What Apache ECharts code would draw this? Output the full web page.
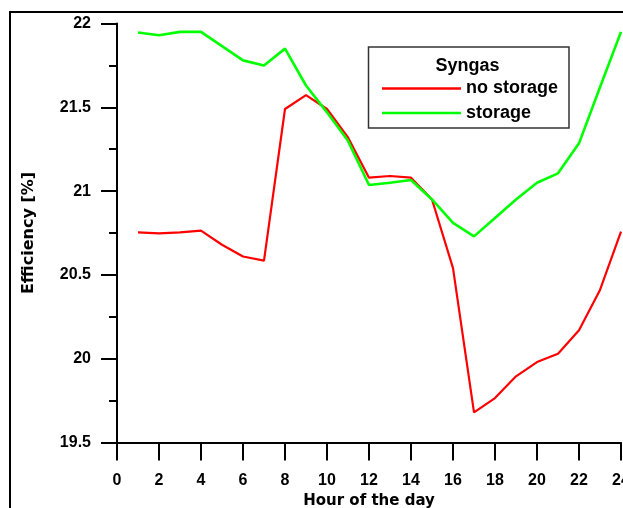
<!DOCTYPE html>
<html>
<head>
<meta charset="utf-8">
<script src="https://cdn.jsdelivr.net/npm/echarts@6/dist/echarts.min.js"></script>
<style>
html,body{margin:0;padding:0;background:#fff;}
#chart{width:623px;height:508px;}
</style>
</head>
<body>
<div id="chart"></div>
<script>
var hours = [1,2,3,4,5,6,7,8,9,10,11,12,13,14,15,16,17,18,19,20,21,22,23,24];
var noStorage = [20.754,20.748,20.754,20.764,20.68,20.61,20.585,21.49,21.573,21.49,21.32,21.08,21.09,21.08,20.95,20.54,19.68,19.765,19.895,19.98,20.03,20.17,20.41,20.758];
var storage = [21.946,21.93,21.95,21.95,21.865,21.78,21.75,21.85,21.63,21.47,21.30,21.036,21.05,21.066,20.95,20.81,20.73,20.84,20.95,21.05,21.106,21.285,21.62,21.95];
var seriesNames = ['no storage','storage'];
var legendTitle = 'Syngas';
var xName = 'Hour of the day';
var yName = 'Efficiency [%]';

function pairs(xs, ys){ return xs.map(function(x,i){return [x, ys[i]];}); }

var chart = echarts.init(document.getElementById('chart'), null, {renderer:'canvas'});
var font = 'Liberation Sans, Arial, sans-serif';
chart.setOption({
  animation:false,
  backgroundColor:'#fff',
  grid:{left:117, top:23.5, width:504, height:419, outerBoundsMode:'none', containLabel:false},
  xAxis:{
    type:'value', min:0, max:24, interval:2,
    axisLine:{show:true, onZero:false, lineStyle:{color:'#000', width:2}},
    axisTick:{show:true, inside:false, length:18, lineStyle:{color:'#000', width:2}},
    axisLabel:{color:'#000', fontFamily:font, fontWeight:'bold', fontSize:16, margin:30, showMaxLabel:true, hideOverlap:false},
    splitLine:{show:false},
    name:xName, nameLocation:'middle', nameGap:48,
    nameTextStyle:{color:'#000', fontFamily:'DejaVu Sans, sans-serif', fontWeight:'bold', fontSize:15}
  },
  yAxis:{
    type:'value', min:19.5, max:22, interval:0.5,
    axisLine:{show:true, onZero:false, lineStyle:{color:'#000', width:2}},
    axisTick:{show:true, inside:false, length:16, lineStyle:{color:'#000', width:2}},
    minorTick:{show:true, splitNumber:2, length:8, lineStyle:{color:'#000', width:2}},
    axisLabel:{color:'#000', fontFamily:font, fontWeight:'bold', fontSize:16, margin:26},
    splitLine:{show:false},
    name:yName, nameLocation:'middle', nameGap:80, nameRotate:90,
    nameTextStyle:{color:'#000', fontFamily:'DejaVu Sans, sans-serif', fontWeight:'bold', fontSize:16}
  },
  legend:{
    orient:'vertical', left:377, top:74.5,
    icon:'rect', itemWidth:79, itemHeight:2.5, itemGap:6.5,
    textStyle:{color:'#000', fontFamily:font, fontWeight:'bold', fontSize:18, lineHeight:18},
    data:seriesNames
  },
  graphic:[
    {type:'rect', shape:{x:10, y:12, width:800, height:800}, style:{fill:'none', stroke:'#000', lineWidth:2}, z:100},
    {type:'rect', shape:{x:368.5, y:47, width:200.5, height:81}, style:{fill:'#fff', stroke:'#333', lineWidth:1.5}, z:-1},
    {type:'text', x:467.5, y:66, style:{text:legendTitle, fill:'#000', font:'bold 18px Liberation Sans, Arial, sans-serif', textAlign:'center', textVerticalAlign:'middle'}, z:100}
  ],
  series:[
    {name:seriesNames[0], type:'line', data:pairs(hours, noStorage), showSymbol:false, symbol:'none', color:'#ff0000', lineStyle:{color:'#ff0000', width:2.2}},
    {name:seriesNames[1], type:'line', data:pairs(hours, storage), showSymbol:false, symbol:'none', color:'#00ff00', lineStyle:{color:'#00ff00', width:2.6}}
  ]
});
</script>
</body>
</html>
